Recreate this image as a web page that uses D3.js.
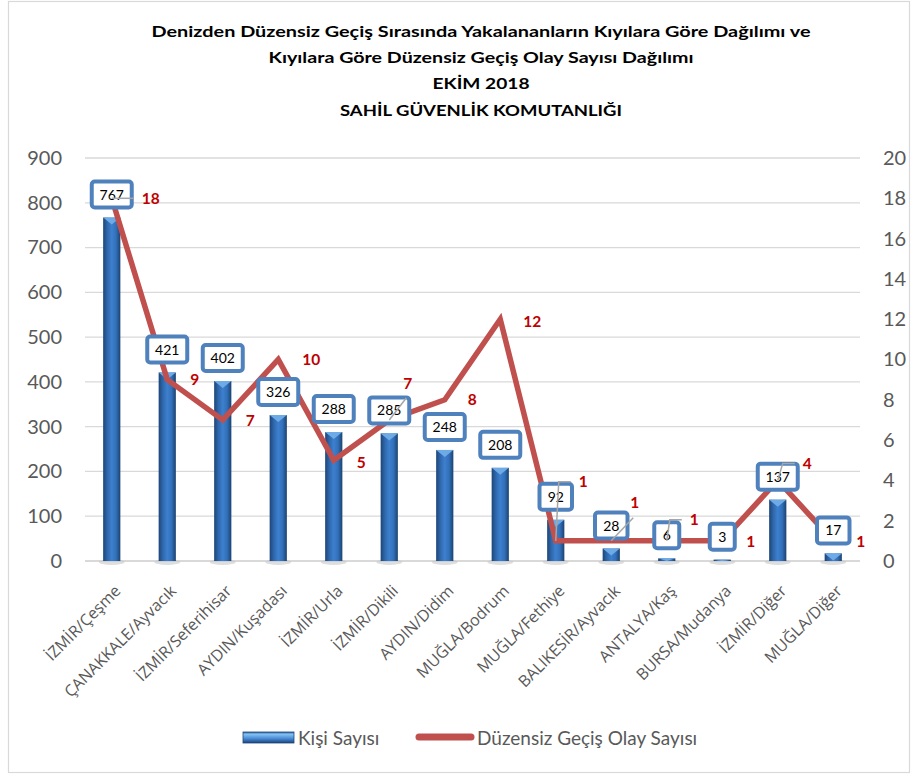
<!DOCTYPE html>
<html><head><meta charset="utf-8">
<script src="https://cdn.jsdelivr.net/npm/d3@7"></script>
<style>body{margin:0;background:#fff}svg{display:block}</style>
</head><body>
<svg id="c" width="912" height="775"></svg>
<script>
// ---- data ----
const categories = ["İZMİR/Çeşme","ÇANAKKALE/Ayvacık","İZMİR/Seferihisar","AYDIN/Kuşadası","İZMİR/Urla","İZMİR/Dikili","AYDIN/Didim","MUĞLA/Bodrum","MUĞLA/Fethiye","BALIKESİR/Ayvacık","ANTALYA/Kaş","BURSA/Mudanya","İZMİR/Diğer","MUĞLA/Diğer"];
const kisiSayisi = [767,421,402,326,288,285,248,208,92,28,6,3,137,17];
const olaySayisi = [18,9,7,10,5,7,8,12,1,1,1,1,4,1];
const leftTicks = [0,100,200,300,400,500,600,700,800,900];
const rightTicks = [0,2,4,6,8,10,12,14,16,18,20];
const titleLines = ["Denizden Düzensiz Geçiş Sırasında Yakalananların Kıyılara Göre Dağılımı ve","Kıyılara Göre Düzensiz Geçiş Olay Sayısı Dağılımı","EKİM 2018","SAHİL GÜVENLİK KOMUTANLIĞI"];
const seriesNames = ["Kişi Sayısı","Düzensiz Geçiş Olay Sayısı"];

// ---- layout (manually placed line labels, px offsets from point) ----
const lblDx = [30,23,23,24,23,14,23,23,23,19,23,24,25,23];
const lblDy = [0,0,0,0,2,-37,0,2,-59,-38,-21,1,-17,1];
const lblLeader = ["elbow","","","","","diag","","","elbow","diag","elbow","","elbow",""];
const titleWidths = [659,425,97,282];

const svg = d3.select("#c");
const F = "Lato, 'Open Sans', sans-serif";

// border
svg.append("rect").attr("x",8.5).attr("y",1.5).attr("width",901).attr("height",771)
  .attr("fill","#fff").attr("stroke","#d9d9d9").attr("stroke-width",1.2);

// defs
const defs = svg.append("defs");
const gb = defs.append("linearGradient").attr("id","barG").attr("x1","0").attr("x2","1").attr("y1","0").attr("y2","0");
[[0,"#1d4577"],[0.25,"#2f68ad"],[0.5,"#3d80cf"],[0.75,"#3270b9"],[1,"#1b4270"]].forEach(s=>gb.append("stop").attr("offset",s[0]).attr("stop-color",s[1]));
const gl = defs.append("linearGradient").attr("id","legG").attr("x1","0").attr("x2","0").attr("y1","0").attr("y2","1");
[[0,"#2b5b96"],[0.2,"#86c2f0"],[0.55,"#4f92da"],[0.8,"#2f67ab"],[1,"#1d416f"]].forEach(s=>gl.append("stop").attr("offset",s[0]).attr("stop-color",s[1]));

// title
svg.append("g").selectAll("text").data(titleLines).join("text")
  .attr("x",481).attr("y",(d,i)=>37+i*26.2)
  .attr("text-anchor","middle").attr("font-family",F).attr("font-weight","bold")
  .attr("font-size",16).attr("fill","#000")
  .attr("textLength",(d,i)=>titleWidths[i]).attr("lengthAdjust","spacingAndGlyphs")
  .text(d=>d);

// scales
const x = d3.scaleBand().domain(categories).range([84,861]).paddingInner(0.69).paddingOuter(0.345);
const yL = d3.scaleLinear().domain([0,900]).range([561,158]);
const yR = d3.scaleLinear().domain([0,20]).range([561,158]);
const cx = c => x(c)+x.bandwidth()/2;

// grid
svg.append("g").selectAll("line").data(leftTicks).join("line")
  .attr("x1",85).attr("x2",860).attr("y1",d=>yL(d)).attr("y2",d=>yL(d))
  .attr("stroke","#d9d9d9").attr("stroke-width",d=>d===0?2:1.3);

// axes
const axL = svg.append("g").attr("transform","translate(85,0)")
  .call(d3.axisLeft(yL).tickValues(leftTicks).tickSize(0).tickPadding(23));
const axR = svg.append("g").attr("transform","translate(860,0)")
  .call(d3.axisRight(yR).tickValues(rightTicks).tickSize(0).tickPadding(23));
[axL,axR].forEach(a=>{a.select(".domain").remove();
  a.selectAll("text").attr("font-family",F).attr("font-size",20).attr("fill","#595959");});

const axB = svg.append("g").attr("transform","translate(0,561)")
  .call(d3.axisBottom(x).tickSize(0));
axB.select(".domain").remove();
axB.selectAll("text").attr("font-family","'Open Sans', sans-serif").attr("font-size",16).attr("fill","#595959")
  .attr("text-anchor","end").attr("x",0).attr("y",0).attr("dy","0.35em")
  .attr("transform","translate(6,27) rotate(-45)");

// bar shadows
svg.append("g").selectAll("ellipse").data(categories).join("ellipse")
  .attr("cx",d=>cx(d)).attr("cy",562).attr("rx",13).attr("ry",3)
  .attr("fill","#c8c8c8").attr("opacity",0.6);

// bars
const bw = x.bandwidth();
const bars = svg.append("g");
bars.selectAll("rect").data(kisiSayisi).join("rect")
  .attr("x",(d,i)=>x(categories[i])).attr("width",bw)
  .attr("y",d=>yL(d)).attr("height",d=>yL(0)-yL(d))
  .attr("fill","url(#barG)");
bars.selectAll("path").data(kisiSayisi).join("path")
  .attr("d",(d,i)=>{const x0=x(categories[i]),x1=x0+bw,t=yL(d),h=Math.min(7,yL(0)-t);
    return `M${x0},${t}L${x1},${t}L${x0+bw/2},${t+h}Z`;})
  .attr("fill","#6daae6");

// line
const line = d3.line().x((d,i)=>cx(categories[i])).y(d=>yR(d));
svg.append("path").datum(olaySayisi).attr("d",line)
  .attr("fill","none").attr("stroke","#c0504d").attr("stroke-width",5.5).attr("stroke-linejoin","miter");

// bar labels
const bl = svg.append("g");
kisiSayisi.forEach((v,i)=>{
  const c = cx(categories[i]), yc = yL(v)-23, n = String(v).length, w = n*7.5+17.5;
  bl.append("rect").attr("x",c-w/2).attr("y",yc-13).attr("width",w).attr("height",26).attr("rx",3)
    .attr("fill","#fff").attr("stroke","#4f81bd").attr("stroke-width",4);
  bl.append("text").attr("x",c).attr("y",yc).attr("dy","0.36em").attr("text-anchor","middle")
    .attr("font-family",F).attr("font-size",14).attr("fill","#000").text(v);
});

// leader lines + line labels
const ll = svg.append("g");
olaySayisi.forEach((v,i)=>{
  const px = cx(categories[i]), py = yR(v), lx = px+lblDx[i], ly = py+lblDy[i];
  if(lblLeader[i]==="elbow"){
    ll.append("path").attr("d",`M${px},${py}L${lx-20},${ly}L${lx-8},${ly}`)
      .attr("fill","none").attr("stroke","#a6a6a6").attr("stroke-width",1.5);
  } else if(lblLeader[i]==="diag"){
    ll.append("path").attr("d",`M${px},${py}L${lx+3},${ly+15}`)
      .attr("fill","none").attr("stroke","#a6a6a6").attr("stroke-width",1.5);
  }
  ll.append("text").attr("x",lx).attr("y",ly).attr("dy","0.36em")
    .attr("font-family",F).attr("font-weight","bold").attr("font-size",15.5).attr("fill","#c00000").text(v);
});

// legend
const lg = svg.append("g");
lg.append("rect").attr("x",243).attr("y",732).attr("width",51).attr("height",11).attr("fill","url(#legG)")
  .attr("stroke","#1f497d").attr("stroke-width",0.8);
lg.append("text").attr("x",298).attr("y",738).attr("dy","0.36em").attr("font-family",F).attr("font-size",19)
  .attr("fill","#595959").text(seriesNames[0]);
lg.append("line").attr("x1",419).attr("x2",471).attr("y1",737).attr("y2",737)
  .attr("stroke","#c0504d").attr("stroke-width",7).attr("stroke-linecap","round");
lg.append("text").attr("x",477).attr("y",738).attr("dy","0.36em").attr("font-family",F).attr("font-size",19)
  .attr("fill","#595959").text(seriesNames[1]);
</script>
</body></html>
